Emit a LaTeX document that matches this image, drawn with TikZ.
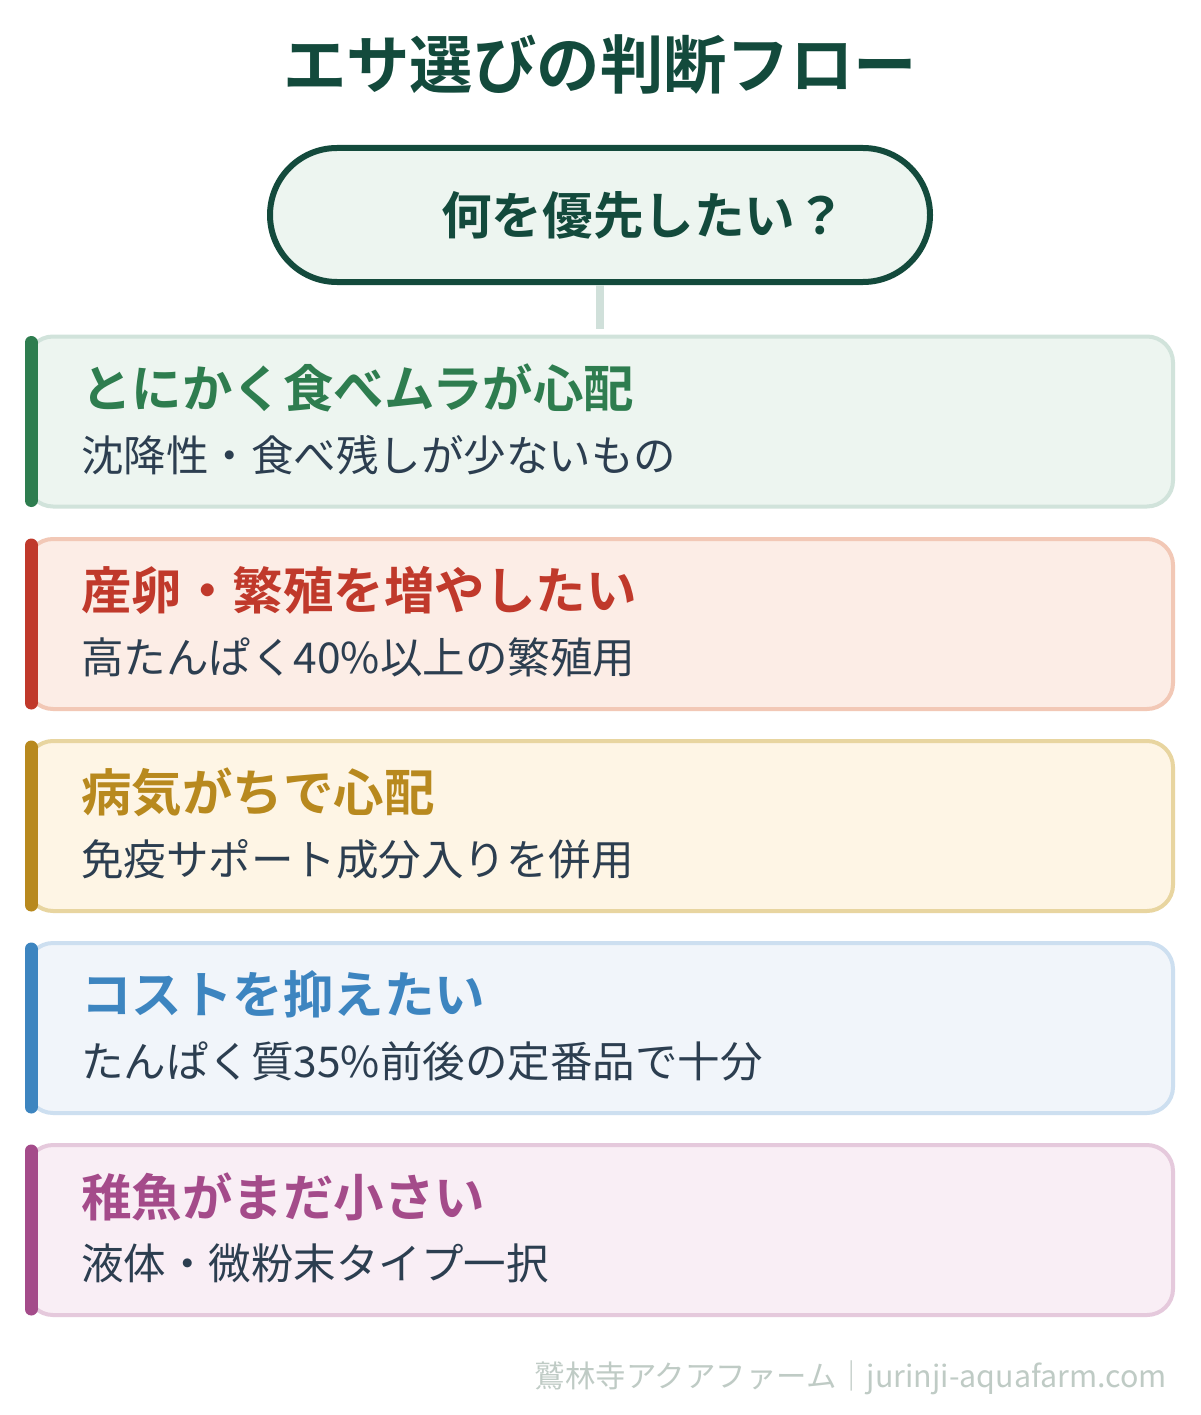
\documentclass[tikz,border=0pt]{standalone}
\usepackage{fontspec}
\setmainfont{Noto Sans CJK JP}[BoldFont={* Bold}]
\usetikzlibrary{positioning}
\definecolor{titlegreen}{HTML}{134A3C}
\definecolor{pillfill}{HTML}{EDF5F0}
\definecolor{linkcol}{HTML}{D0E0DA}
\definecolor{subtext}{HTML}{2C3E50}
\definecolor{foot}{HTML}{BFCBC5}
\definecolor{fA}{HTML}{EDF5F0}\definecolor{bA}{HTML}{D1E3DB}\definecolor{aA}{HTML}{2E7D4F}
\definecolor{fB}{HTML}{FCEDE6}\definecolor{bB}{HTML}{F2C8B6}\definecolor{aB}{HTML}{C0392B}
\definecolor{fC}{HTML}{FEF5E5}\definecolor{bC}{HTML}{E8D5A0}\definecolor{aC}{HTML}{B8891E}
\definecolor{fD}{HTML}{F1F5FA}\definecolor{bD}{HTML}{CDDFF0}\definecolor{aD}{HTML}{3D85C0}
\definecolor{fE}{HTML}{F9EEF5}\definecolor{bE}{HTML}{E5C9DC}\definecolor{aE}{HTML}{A44B8A}
\tikzset{
  card/.style={draw, line width=4pt, rounded corners=26pt, minimum width=1146pt, minimum height=170pt, inner sep=0pt},
  accent/.style={line width=13pt, line cap=round},
  cardtitle/.style={anchor=west, inner sep=0pt, font=\fontsize{50.5}{58}\selectfont\bfseries},
  cardsub/.style={anchor=west, inner sep=0pt, text=subtext, font=\fontsize{42.5}{50}\selectfont},
}
\begin{document}
\begin{tikzpicture}[x=1pt,y=-1pt]
\useasboundingbox (0,0) rectangle (1200,1415);
\fill[white] (0,0) rectangle (1200,1415);
\node[text=titlegreen, font=\fontsize{63.4}{70}\selectfont\bfseries] (title) at (600,65) {エサ選びの判断フロー};
\node[draw=titlegreen, line width=6pt, fill=pillfill, rounded corners=67pt, minimum width=660pt, minimum height=134pt] (q) at (600,215) {};
\node[text=titlegreen, anchor=west, inner sep=0pt, font=\fontsize{50.6}{58}\selectfont\bfseries] (qt) at (441,215) {何を優先したい？};
% cards
\foreach \i/\y/\f/\b/\a/\t/\s in {
  1/421.5/fA/bA/aA/とにかく食べムラが心配/沈降性・食べ残しが少ないもの,
  2/624/fB/bB/aB/産卵・繁殖を増やしたい/高たんぱく40\%以上の繁殖用,
  3/826/fC/bC/aC/病気がちで心配/免疫サポート成分入りを併用,
  4/1028/fD/bD/aD/コストを抑えたい/たんぱく質35\%前後の定番品で十分,
  5/1230/fE/bE/aE/稚魚がまだ小さい/液体・微粉末タイプ一択}{
  \node[card, draw=\b, fill=\f] (c\i) at (600,\y) {};
  \draw[accent, \a] ([xshift=6pt,yshift=79pt]c\i.west) coordinate (t\i) -- ([xshift=6pt,yshift=-79pt]c\i.west) coordinate (u\i);
  \node[cardtitle, text=\a] (ct\i) at ([xshift=56pt,yshift=33.5pt]c\i.west) {\t};
  \node[cardsub] (cs\i) at ([xshift=56pt,yshift=-33.5pt]c\i.west) {\s};
}
\draw[linkcol, line width=8pt, shorten >=6pt] (q.south) -- (c1.north);
\node[anchor=east, text=foot, inner sep=0pt, font=\fontsize{30.4}{36}\selectfont] (footer) at (1167,1378) {鷲林寺アクアファーム｜jurinji-aquafarm.com};
\end{tikzpicture}
\end{document}
